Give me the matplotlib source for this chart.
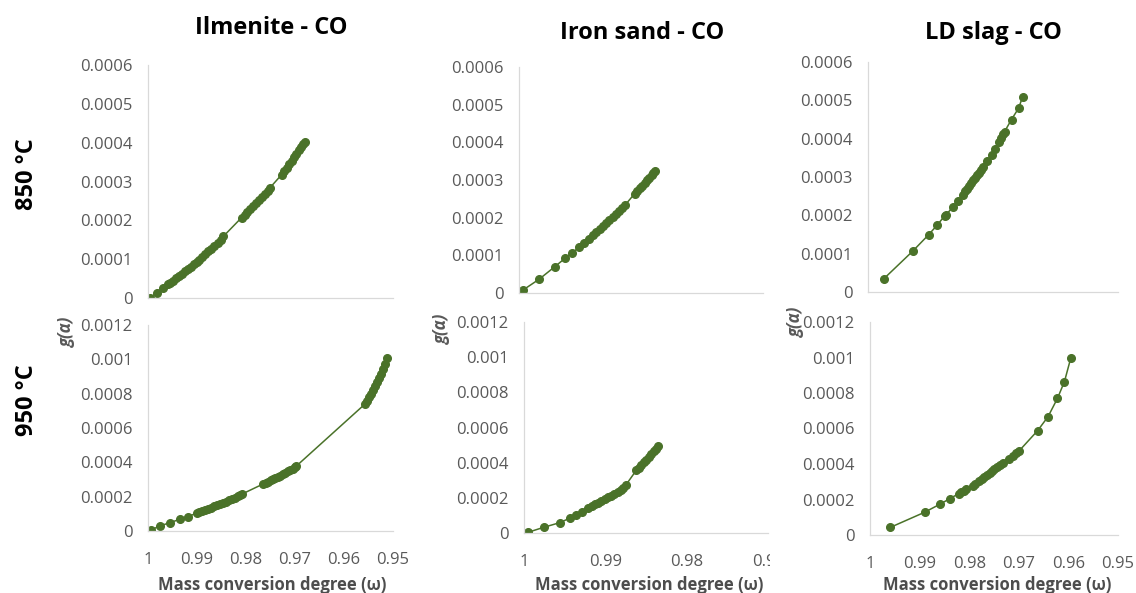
import matplotlib
matplotlib.use("Agg")
import matplotlib.pyplot as plt
from matplotlib.transforms import Bbox, TransformedBbox

plt.rcParams['font.family'] = ['Open Sans', 'DejaVu Sans']

# ---- data: omega (mass conversion degree) and g(alpha)
ilm_850_w = [0.9996, 0.9981, 0.9969, 0.9959,
             0.9955, 0.9949, 0.9943, 0.9937, 0.9931, 0.9925, 0.9919, 0.9913, 0.9907, 0.9901,
             0.9895, 0.9889, 0.9883, 0.9877, 0.9871, 0.9865, 0.9858, 0.9852, 0.9846,
             0.9809, 0.9803, 0.9797, 0.9791, 0.9785, 0.9779, 0.9773, 0.9767, 0.9761, 0.9756, 0.9751,
             0.9727, 0.9722, 0.9717, 0.9712, 0.9707, 0.9702, 0.9697, 0.9692, 0.9687, 0.9683, 0.9680]
ilm_850_g = [0.01e-4, 0.14e-4, 0.26e-4, 0.36e-4,
             0.39e-4, 0.45e-4, 0.51e-4, 0.57e-4, 0.63e-4, 0.69e-4, 0.75e-4, 0.81e-4, 0.87e-4, 0.93e-4,
             0.99e-4, 1.06e-4, 1.13e-4, 1.20e-4, 1.27e-4, 1.34e-4, 1.42e-4, 1.50e-4, 1.59e-4,
             2.07e-4, 2.15e-4, 2.22e-4, 2.30e-4, 2.37e-4, 2.45e-4, 2.53e-4, 2.61e-4, 2.69e-4, 2.76e-4, 2.84e-4,
             3.18e-4, 3.27e-4, 3.36e-4, 3.45e-4, 3.54e-4, 3.63e-4, 3.72e-4, 3.81e-4, 3.90e-4, 3.96e-4, 4.01e-4]

iron_850_w = [0.9995, 0.9975, 0.9956, 0.9943, 0.9935, 0.9926, 0.9920, 0.9914, 0.9909,
              0.9905, 0.9901, 0.9897, 0.9893, 0.9889, 0.9885, 0.9881, 0.9877, 0.9874, 0.9870,
              0.9858, 0.9855, 0.9852, 0.9849, 0.9846, 0.9843, 0.9840, 0.9837, 0.9835, 0.9833]
iron_850_g = [0.08e-4, 0.37e-4, 0.70e-4, 0.93e-4, 1.07e-4, 1.21e-4, 1.34e-4, 1.44e-4, 1.55e-4,
              1.63e-4, 1.70e-4, 1.78e-4, 1.86e-4, 1.94e-4, 2.02e-4, 2.10e-4, 2.18e-4, 2.25e-4, 2.33e-4,
              2.64e-4, 2.71e-4, 2.78e-4, 2.85e-4, 2.92e-4, 2.99e-4, 3.06e-4, 3.13e-4, 3.19e-4, 3.24e-4]

ld_850_w = [0.9968, 0.9911, 0.9879, 0.9862, 0.9847, 0.9844, 0.9831, 0.9820, 0.9810,
            0.9806, 0.9802, 0.9798, 0.9794, 0.9790, 0.9786, 0.9782, 0.9778, 0.9774, 0.9770,
            0.9762, 0.9753, 0.9747, 0.9738, 0.9734, 0.9730, 0.9727, 0.9713, 0.9699, 0.9691]
ld_850_g = [0.35e-4, 1.06e-4, 1.49e-4, 1.74e-4, 1.98e-4, 2.01e-4, 2.21e-4, 2.37e-4, 2.54e-4,
            2.63e-4, 2.70e-4, 2.77e-4, 2.84e-4, 2.91e-4, 2.98e-4, 3.05e-4, 3.11e-4, 3.19e-4, 3.26e-4,
            3.41e-4, 3.58e-4, 3.72e-4, 3.92e-4, 4.02e-4, 4.11e-4, 4.18e-4, 4.50e-4, 4.79e-4, 5.08e-4]

ilm_950_w = [0.9994, 0.9976, 0.9955, 0.9935, 0.9919,
             0.9901, 0.9895, 0.9889, 0.9883, 0.9877, 0.9871, 0.9865, 0.9859, 0.9853, 0.9847,
             0.9841, 0.9835, 0.9829, 0.9823, 0.9817, 0.9813, 0.9809,
             0.9765, 0.9760, 0.9755, 0.9750, 0.9745, 0.9740, 0.9735, 0.9730, 0.9725, 0.9720,
             0.9715, 0.9710, 0.9705, 0.9701, 0.9697,
             0.9557, 0.9553, 0.9549, 0.9545, 0.9541, 0.9537, 0.9533, 0.9529, 0.9525, 0.9521,
             0.9517, 0.9513]
ilm_950_g = [0.06e-4, 0.29e-4, 0.49e-4, 0.68e-4, 0.84e-4,
             1.03e-4, 1.09e-4, 1.15e-4, 1.22e-4, 1.29e-4, 1.36e-4, 1.43e-4, 1.50e-4, 1.57e-4, 1.64e-4,
             1.71e-4, 1.78e-4, 1.86e-4, 1.93e-4, 2.01e-4, 2.07e-4, 2.14e-4,
             2.74e-4, 2.81e-4, 2.88e-4, 2.95e-4, 3.02e-4, 3.09e-4, 3.16e-4, 3.23e-4, 3.31e-4, 3.39e-4,
             3.47e-4, 3.55e-4, 3.63e-4, 3.71e-4, 3.79e-4,
             7.40e-4, 7.58e-4, 7.78e-4, 7.98e-4, 8.20e-4, 8.42e-4, 8.66e-4, 8.90e-4, 9.16e-4, 9.42e-4,
             9.72e-4, 10.1e-4]

iron_950_w = [0.9995, 0.9976, 0.9956, 0.9944, 0.9936, 0.9929, 0.9922,
              0.9917, 0.9913, 0.9909, 0.9905, 0.9901, 0.9897, 0.9893, 0.9889, 0.9885, 0.9881,
              0.9878, 0.9875,
              0.9862, 0.9859, 0.9856, 0.9853, 0.9850, 0.9847, 0.9844, 0.9841, 0.9838, 0.9836]
iron_950_g = [0.04e-4, 0.32e-4, 0.59e-4, 0.84e-4, 1.02e-4, 1.21e-4, 1.40e-4,
              1.55e-4, 1.64e-4, 1.73e-4, 1.82e-4, 1.92e-4, 2.02e-4, 2.12e-4, 2.22e-4, 2.33e-4, 2.45e-4,
              2.58e-4, 2.73e-4,
              3.58e-4, 3.72e-4, 3.87e-4, 4.02e-4, 4.17e-4, 4.32e-4, 4.48e-4, 4.64e-4, 4.80e-4, 4.95e-4]

ld_950_w = [0.9959, 0.9890, 0.9858, 0.9839, 0.9821, 0.9816, 0.9811, 0.9807, 0.9793, 0.9789,
            0.9780, 0.9775, 0.9770, 0.9764, 0.9759, 0.9754, 0.9749, 0.9744, 0.9738, 0.9731,
            0.9720, 0.9711, 0.9705, 0.9699, 0.9662, 0.9641, 0.9622, 0.9608, 0.9595]
ld_950_g = [0.43e-4, 1.28e-4, 1.75e-4, 2.05e-4, 2.33e-4, 2.40e-4, 2.49e-4, 2.57e-4, 2.78e-4, 2.87e-4,
            3.06e-4, 3.17e-4, 3.29e-4, 3.40e-4, 3.51e-4, 3.62e-4, 3.74e-4, 3.85e-4, 3.94e-4, 4.04e-4,
            4.28e-4, 4.45e-4, 4.60e-4, 4.75e-4, 5.88e-4, 6.67e-4, 7.70e-4, 8.64e-4, 9.99e-4]

titles = ['Ilmenite - CO', 'Iron sand - CO', 'LD slag - CO']
rows = ['850 °C', '950 °C']
yticks_850 = [0, 0.0001, 0.0002, 0.0003, 0.0004, 0.0005, 0.0006]
yticks_950 = [0, 0.0002, 0.0004, 0.0006, 0.0008, 0.001, 0.0012]
xticks_wide = [1, 0.99, 0.98, 0.97, 0.96, 0.95]
xticks_narrow = [1, 0.99, 0.98, 0.97]

W, H = 1136, 593
GREEN = '#4a7229'
GREY = '#595959'
fig = plt.figure(figsize=(W / 100, H / 100), dpi=100)


def box(l, r, b, t):
    return [l / W, 1 - b / H, (r - l) / W, (b - t) / H]


def panel(rect, w, g, xt, yt, show_x):
    ax = fig.add_axes(box(*rect))
    ax.plot(w, g, '-o', color=GREEN, lw=1.1, ms=5.5, mec=GREEN)
    ax.set_xlim(xt[0], xt[-1])
    ax.set_ylim(yt[0], yt[-1])
    ax.set_xticks(xt)
    ax.set_xticklabels(['%g' % v for v in xt])
    ax.set_yticks(yt)
    ax.set_yticklabels(['%g' % v for v in yt])
    for s in ['top', 'right']:
        ax.spines[s].set_visible(False)
    for s in ['left', 'bottom']:
        ax.spines[s].set_color('#d9d9d9')
        ax.spines[s].set_linewidth(0.9)
    ax.tick_params(length=0, labelsize=12, colors=GREY)
    ax.tick_params(axis='y', pad=11)
    ax.tick_params(axis='x', pad=15, labelbottom=show_x)
    ax.patch.set_alpha(0)
    return ax


panel((148, 393, 298, 65), ilm_850_w, ilm_850_g, xticks_wide, yticks_850, False)
panel((519, 763.5, 293, 67), iron_850_w, iron_850_g, xticks_narrow, yticks_850, False)
panel((868, 1118, 292, 62), ld_850_w, ld_850_g, xticks_wide, yticks_850, False)
panel((148, 393, 531, 325), ilm_950_w, ilm_950_g, xticks_wide, yticks_950, True)
bm = panel((524, 768.5, 533, 322), iron_950_w, iron_950_g, xticks_narrow, yticks_950, True)
panel((870, 1118, 535, 322), ld_950_w, ld_950_g, xticks_wide, yticks_950, True)

# the middle chart is cut off by the right one in the original
clip = TransformedBbox(Bbox([[0, 0], [770 / W, 1]]), fig.transFigure)
for lbl in bm.get_xticklabels():
    lbl.set_clip_on(True)
    lbl.set_clip_box(clip)


def ftext(x, y, s, **kw):
    return fig.text(x / W, 1 - y / H, s, ha='center', va='center', **kw)


for x, y, t in zip([271, 642, 993], [28, 33, 33], titles):
    ftext(x, y, t, fontsize=17, fontweight='bold', color='black')
for y, t in zip([174, 400], rows):
    ftext(27, y, t, fontsize=17, fontweight='bold', rotation=90, color='black')

for x, y in zip([67, 442, 796], [332, 329, 322]):
    ftext(x, y, 'g(α)', fontsize=12, fontweight='bold', style='italic', rotation=90, color=GREY)

for x in [272, 649, 997]:
    t = ftext(x, 585, 'Mass conversion degree (ω)', fontsize=12, fontweight='bold', color='#4d4d4d')
    if x == 649:
        t.set_clip_on(True)
        t.set_clip_box(clip)

fig.savefig('out.png', dpi=100, facecolor='white')
